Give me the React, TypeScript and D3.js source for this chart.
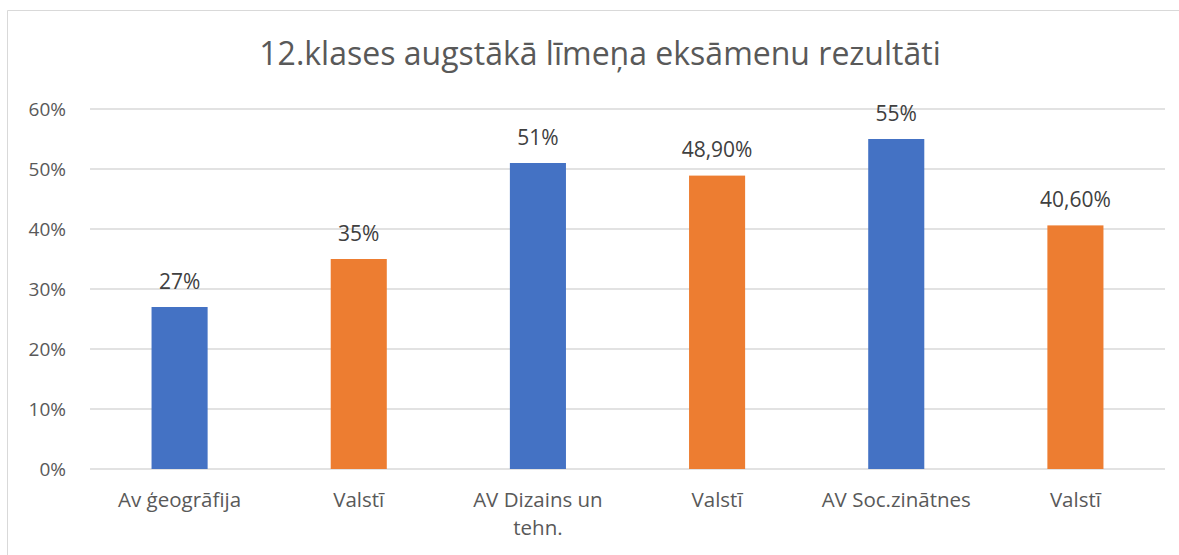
import React from "react";
import * as d3 from "d3";

const categories = ["Av ģeogrāfija", "Valstī", "AV Dizains un tehn.", "Valstī", "AV Soc.zinātnes", "Valstī"];
const categoryLines = [["Av ģeogrāfija"], ["Valstī"], ["AV Dizains un", "tehn."], ["Valstī"], ["AV Soc.zinātnes"], ["Valstī"]];
const values = [27, 35, 51, 48.9, 55, 40.6];
const valueLabels = ["27%", "35%", "51%", "48,90%", "55%", "40,60%"];
const barColors = ["#4472C4", "#ED7D31", "#4472C4", "#ED7D31", "#4472C4", "#ED7D31"];
const yTicks = [0, 10, 20, 30, 40, 50, 60];
const title = "12.klases augstākā līmeņa eksāmenu rezultāti";

const W = 1179;
const H = 555;
const FONT = "'Open Sans', sans-serif";

export default function App() {
  const left = 90, right = 1165, top = 109, bottom = 469;
  const x = d3.scaleBand<number>().domain(d3.range(categories.length)).range([left, right]).paddingInner(0.687).paddingOuter(0.3435);
  const y = d3.scaleLinear().domain([0, 60]).range([bottom, top]);
  return (
    <svg width={W} height={H} style={{ position: "absolute", left: 0, top: 0 }} fontFamily={FONT}>
      <rect x={0} y={0} width={W} height={H} fill="#fff" />
      <path d={`M7.5,${H} V10.5 H${W}`} fill="none" stroke="#D9D9D9" strokeWidth={1} />
      <text x={600} y={65} textAnchor="middle" fontSize={32} fill="#595959">{title}</text>
      {yTicks.map((t) => (
        <g key={t}>
          <line x1={left} x2={right} y1={y(t)} y2={y(t)} stroke="#D9D9D9" strokeWidth={1.3} />
          <text x={66} y={y(t) + 6.8} textAnchor="end" fontSize={19} fill="#595959">{t}%</text>
        </g>
      ))}
      {values.map((v, i) => (
        <g key={i}>
          <rect x={x(i)!} y={y(v)} width={x.bandwidth()} height={y(0) - y(v)} fill={barColors[i]} />
          <text x={x(i)! + x.bandwidth() / 2} y={y(v) - 18.3} textAnchor="middle" fontSize={21} fill="#404040">{valueLabels[i]}</text>
        </g>
      ))}
      {categoryLines.map((lines, i) => (
        <text key={i} x={x(i)! + x.bandwidth() / 2} y={506.7} textAnchor="middle" fontSize={20.5} fill="#595959">
          {lines.map((l, j) => (
            <tspan key={j} x={x(i)! + x.bandwidth() / 2} dy={j === 0 ? 0 : 28}>{l}</tspan>
          ))}
        </text>
      ))}
    </svg>
  );
}
